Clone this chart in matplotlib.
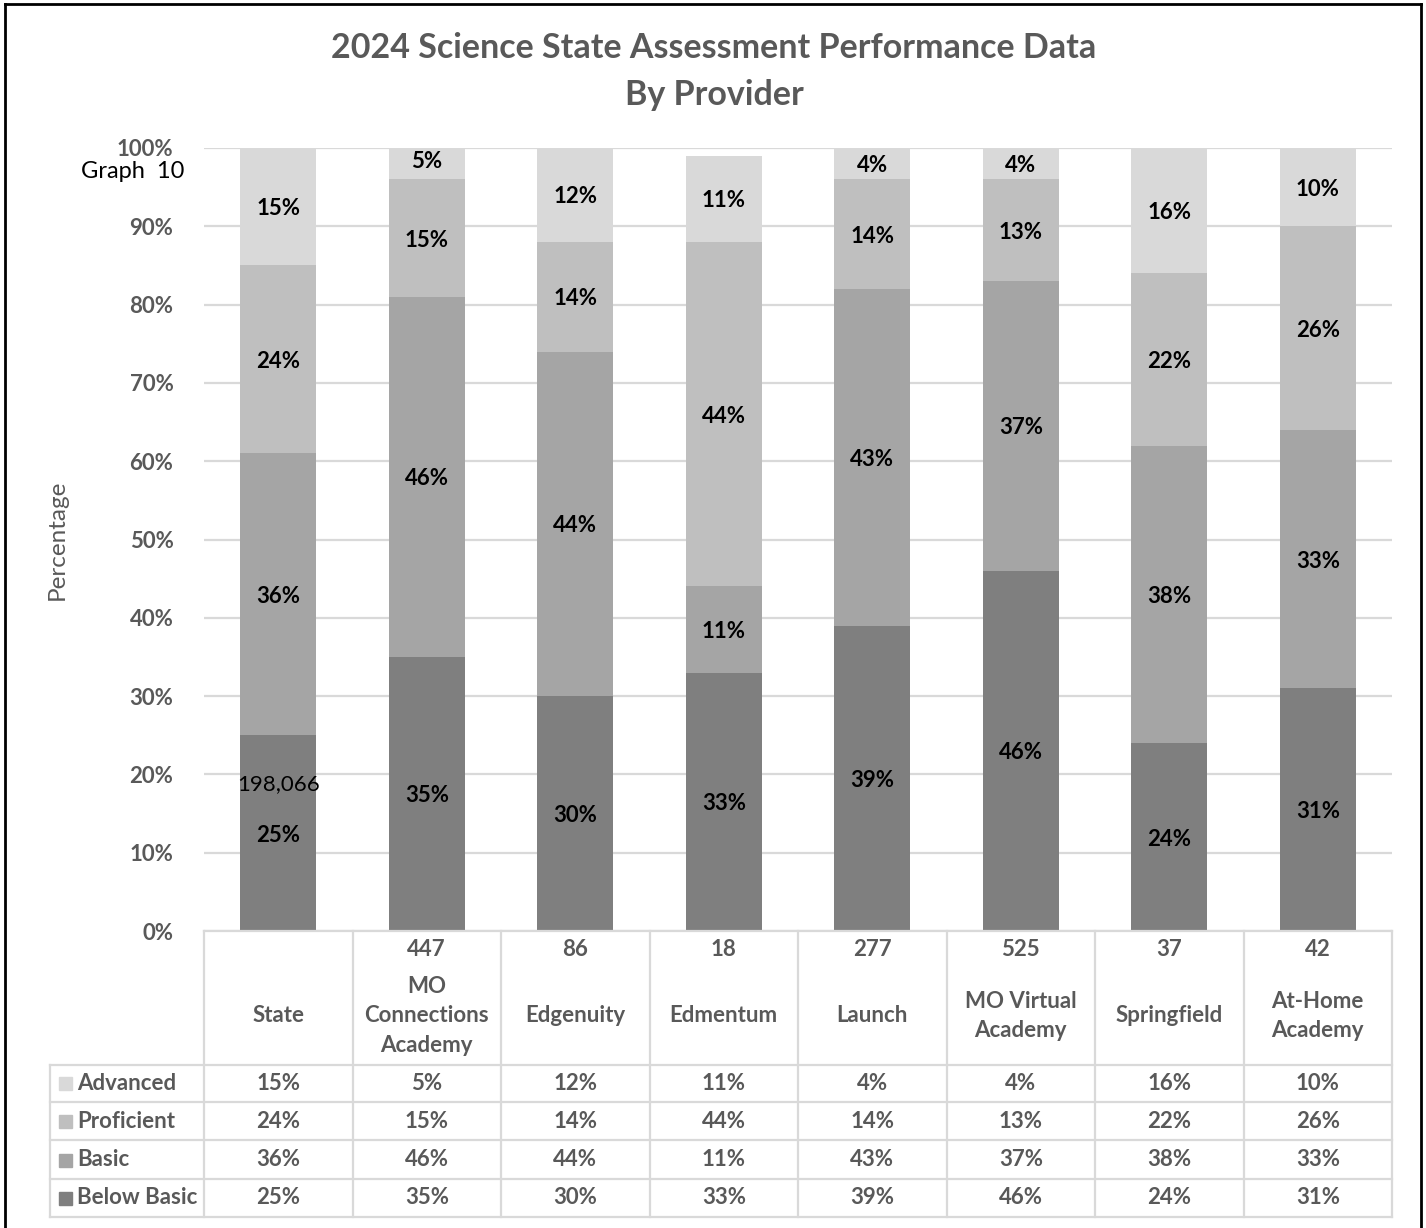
import matplotlib
matplotlib.use("Agg")
import matplotlib.pyplot as plt
import numpy as np
from matplotlib.patches import Rectangle
from matplotlib.lines import Line2D

plt.rcParams['font.family'] = ['Lato', 'DejaVu Sans']

# data
providers = ["State", "MO\nConnections\nAcademy", "Edgenuity", "Edmentum", "Launch",
             "MO Virtual\nAcademy", "Springfield", "At-Home\nAcademy"]
counts = ["", "447", "86", "18", "277", "525", "37", "42"]
state_count = "198,066"
levels = ["Advanced", "Proficient", "Basic", "Below Basic"]
advanced = [15, 5, 12, 11, 4, 4, 16, 10]
proficient = [24, 15, 14, 44, 14, 13, 22, 26]
basic = [36, 46, 44, 11, 43, 37, 38, 33]
below_basic = [25, 35, 30, 33, 39, 46, 24, 31]
yticks = np.arange(0, 101, 10)

colors = {"Advanced": "#d9d9d9", "Proficient": "#bfbfbf",
          "Basic": "#a5a5a5", "Below Basic": "#7f7f7f"}
series = {"Advanced": advanced, "Proficient": proficient,
          "Basic": basic, "Below Basic": below_basic}
grey = "#595959"
linec = "#d9d9d9"
fs = 16

W, H = 1426, 1228
fig = plt.figure(figsize=(W / 100, H / 100), dpi=100)

# plot area in pixels: x 204..1392, y 148..931
ax = fig.add_axes([204 / W, 1 - 931 / H, (1392 - 204) / W, (931 - 148) / H])
x = np.arange(len(providers))

bottom = np.zeros(len(providers))
for name in ["Below Basic", "Basic", "Proficient", "Advanced"]:
    vals = np.array(series[name])
    ax.bar(x, vals, 0.51, bottom=bottom, color=colors[name], zorder=2)
    for xi, b, v in zip(x, bottom, vals):
        ax.text(xi, b + v / 2, f"{v}%", ha="center", va="center_baseline",
                fontsize=fs, fontweight="bold", color="black", zorder=3)
    bottom += vals

ax.text(0, 19.0, state_count, ha="center", va="center_baseline", fontsize=fs, color="black", zorder=3)

ax.set_xlim(-0.5, len(providers) - 0.5)
ax.set_ylim(0, 100)
ax.set_yticks(yticks)
ax.set_yticklabels([f"{t}%" for t in yticks], fontsize=fs, fontweight="bold", color=grey)
ax.set_xticks([])
ax.tick_params(axis="y", length=0, pad=22)
ax.yaxis.grid(True, color=linec, lw=1.6, zorder=0)
for s in ax.spines.values():
    s.set_visible(False)

# data table below the plot
trans = ax.get_xaxis_transform()


def yf(py):
    return (931 - py) / 783


left_x = -0.5 - (204 - 50) / 148.5
right_x = len(providers) - 0.5
row_lines = [1065, 1102, 1140, 1179, 1217]
row_centers = [1083, 1121, 1160, 1198]

ax.plot([-0.5, right_x], [yf(931)] * 2, transform=trans, clip_on=False, color=linec, lw=1.6)
for py in row_lines:
    ax.plot([left_x, right_x], [yf(py)] * 2, transform=trans, clip_on=False, color=linec, lw=1.6)
for i in range(len(providers) + 1):
    ax.plot([i - 0.5] * 2, [yf(931), yf(1217)], transform=trans, clip_on=False, color=linec, lw=1.6)
ax.plot([left_x] * 2, [yf(1065), yf(1217)], transform=trans, clip_on=False, color=linec, lw=1.6)

for xi, c, p in zip(x, counts, providers):
    ax.text(xi, yf(950), c, transform=trans, ha="center", va="center",
            fontsize=fs, fontweight="bold", color=grey)
    ax.text(xi, yf(1016), p, transform=trans, ha="center", va="center",
            fontsize=fs, fontweight="bold", color=grey, linespacing=1.5)

for name, py in zip(levels, row_centers):
    fig.add_artist(Rectangle((59 / W, 1 - (py + 6.5) / H), 13 / W, 13 / H,
                             transform=fig.transFigure, color=colors[name]))
    fig.text(77 / W, 1 - py / H, name, ha="left", va="center",
             fontsize=fs, fontweight="bold", color=grey)
    for xi, v in zip(x, series[name]):
        ax.text(xi, yf(py), f"{v}%", transform=trans, ha="center", va="center",
                fontsize=fs, fontweight="bold", color=grey)

# titles and labels
fig.text(714 / W, 1 - 48 / H, "2024 Science State Assessment Performance Data",
         ha="center", va="center", fontsize=24.5, fontweight="bold", color=grey)
fig.text(714 / W, 1 - 95 / H, "By Provider",
         ha="center", va="center", fontsize=24.5, fontweight="bold", color=grey)
fig.text(184 / W, 1 - 171 / H, "Graph  10", ha="right", va="center", fontsize=17, color="black")
fig.text(57 / W, 1 - 540 / H, "Percentage", ha="center", va="center",
         rotation=90, fontsize=17.5, color=grey)

# outer border
for xs, ys in [([5, 5], [4, 1228]), ([5, 1421], [4, 4]), ([1421, 1421], [4, 1228])]:
    fig.add_artist(Line2D([v / W for v in xs], [1 - v / H for v in ys],
                          transform=fig.transFigure, color="black", lw=2))

fig.savefig("out.png", dpi=100)
